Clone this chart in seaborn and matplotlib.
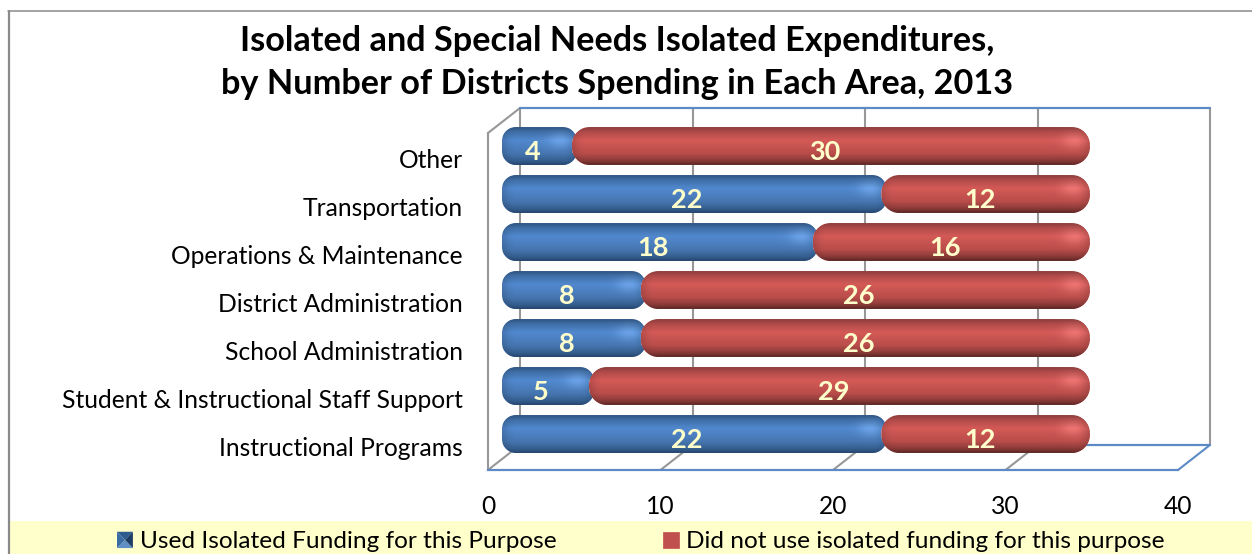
import numpy as np
import pandas as pd
import matplotlib
matplotlib.use("Agg")
import matplotlib.pyplot as plt
import seaborn as sns
from matplotlib.legend_handler import HandlerBase
from matplotlib.lines import Line2D
from matplotlib.patches import Patch, PathPatch, Polygon, Rectangle
from matplotlib.path import Path
from matplotlib.transforms import Affine2D
from matplotlib.colors import LinearSegmentedColormap

# values
categories = ["Other", "Transportation", "Operations & Maintenance", "District Administration",
              "School Administration", "Student & Instructional Staff Support", "Instructional Programs"]
used = [4, 22, 18, 8, 8, 5, 22]
not_used = [30, 12, 16, 26, 26, 29, 12]
x_ticks = [0, 10, 20, 30, 40]
title = "Isolated and Special Needs Isolated Expenditures,\nby Number of Districts Spending in Each Area, 2013"
legend_labels = ["Used Isolated Funding for this Purpose", "Did not use isolated funding for this purpose"]

W, H = 1252, 554
BLUE = "#4a7ebb"
RED = "#c0504d"
WALL = "#5b8ac4"
GRID = "#979797"
FRAME = "#8a8a8a"

sns.set_theme(style="white")
plt.rcParams["font.family"] = ["Lato", "DejaVu Sans"]

df = pd.DataFrame({"category": categories, "used": used, "not_used": not_used})

fig = plt.figure(figsize=(W / 100, H / 100), dpi=100, facecolor="white")


def px_axes(x0, y0, x1, y1):
    # axes from pixel box, y measured from the top
    return fig.add_axes([x0 / W, 1 - y1 / H, (x1 - x0) / W, (y1 - y0) / H])


def rounded(x, y, w, h, rx, ry):
    # rounded rectangle path, radii given per axis in data units
    k = 0.45
    verts = [(x + rx, y), (x + w - rx, y),
             (x + w - rx * k, y), (x + w, y + ry * k), (x + w, y + ry),
             (x + w, y + h - ry),
             (x + w, y + h - ry * k), (x + w - rx * k, y + h), (x + w - rx, y + h),
             (x + rx, y + h),
             (x + rx * k, y + h), (x, y + h - ry * k), (x, y + h - ry),
             (x, y + ry),
             (x, y + ry * k), (x + rx * k, y), (x + rx, y),
             (x + rx, y)]
    codes = [Path.MOVETO, Path.LINETO, Path.CURVE4, Path.CURVE4, Path.CURVE4, Path.LINETO,
             Path.CURVE4, Path.CURVE4, Path.CURVE4, Path.LINETO,
             Path.CURVE4, Path.CURVE4, Path.CURVE4, Path.LINETO,
             Path.CURVE4, Path.CURVE4, Path.CURVE4, Path.CLOSEPOLY]
    return Path(verts, codes)


class PyramidHandler(HandlerBase):
    # little bevelled square used by the first legend entry
    def create_artists(self, legend, orig, xd, yd, width, height, fontsize, trans):
        x0, y0 = -xd, -yd
        x1, y1 = x0 + width, y0 + height
        cx, cy = (x0 + x1) / 2, (y0 + y1) / 2
        faces = [([(x0, y1), (x1, y1), (cx, cy)], "#2f5c8f"),
                 ([(x0, y0), (x1, y0), (cx, cy)], "#5f8fc4"),
                 ([(x0, y0), (x0, y1), (cx, cy)], "#3a6ca3"),
                 ([(x1, y0), (x1, y1), (cx, cy)], "#1d3d66")]
        return [Polygon(pts, closed=True, fc=c, ec="none", transform=trans) for pts, c in faces]


# outer frame and legend band
fig.add_artist(Rectangle((10 / W, 0), 1242 / W, 33 / H, transform=fig.transFigure, fc="#ffffcc", ec="none"))
fig.add_artist(Line2D([8.5 / W, 8.5 / W], [0, 1 - 10.5 / H], transform=fig.transFigure, color=FRAME, lw=1.6))
fig.add_artist(Line2D([8 / W, 1], [1 - 10.5 / H, 1 - 10.5 / H], transform=fig.transFigure, color=FRAME, lw=1.1))

# front plane of the 3d box carries the axis labels
front = px_axes(488, 133, 1178, 470)
front.set_xlim(0, 40)
front.set_ylim(0, 1)
front.patch.set_alpha(0)
front.set_xticks(x_ticks)
front.set_yticks([])
front.tick_params(axis="x", length=0, pad=18, labelsize=17.7, labelcolor="black")
sns.despine(ax=front, top=True, right=True)
front.spines["left"].set(color=GRID, linewidth=1.5)
front.spines["bottom"].set(color=WALL, linewidth=1.6)

back = front.get_xaxis_transform() + Affine2D().translate(32, 25)
floor = front.get_xaxis_transform()
for v in x_ticks:
    is_end = v == 40
    front.plot([v, v], [0, 1], transform=back, color=GRID, lw=1.5, clip_on=False)
    # floor diagonal, from front edge to back wall
    p0 = floor.transform((v, 0))
    p1 = back.transform((v, 0))
    front.plot([p0[0], p1[0]], [p0[1], p1[1]], transform=None, color=WALL if is_end else GRID, lw=1.5, clip_on=False)
p0 = floor.transform((0, 1))
p1 = back.transform((0, 1))
front.plot([p0[0], p1[0]], [p0[1], p1[1]], transform=None, color=GRID, lw=1.5, clip_on=False)
front.plot([0, 40], [1, 1], transform=back, color=WALL, lw=1.6, clip_on=False)
front.plot([0, 40], [0, 0], transform=back, color=WALL, lw=1.6, clip_on=False)

# bars, axes starts one unit early so the round caps left of zero stay visible
ux = 688 / 40   # pixels per x unit
uy = 48         # pixels per category
ax = px_axes(505 - ux, 122, 1193, 458)
ax.patch.set_alpha(0)
sns.barplot(data=df, y="category", x="used", color=BLUE, saturation=1, width=0.79, ax=ax, zorder=2)
sns.barplot(data=df, y="category", x="not_used", left=df["used"].values, color=RED, saturation=1, width=0.79, ax=ax, zorder=3)
ax.set_xlim(-1, 40)
ax.set_ylim(6.5, -0.5)
ax.set(xlabel="", ylabel="")
ax.set_xticks([])
ax.tick_params(axis="y", length=0, pad=18, labelsize=17.7, labelcolor="black")
for lbl in ax.get_yticklabels():
    lbl.set_transform(lbl.get_transform() + Affine2D().translate(0, -12))
sns.despine(ax=ax, left=True, bottom=True)

blue_cmap = LinearSegmentedColormap.from_list("b", [(0, "#2f5380"), (0.12, "#3f6ea6"), (0.35, "#5189cf"), (0.7, "#4676b0"), (0.9, "#355d8e"), (1, "#26466c")])
red_cmap = LinearSegmentedColormap.from_list("r", [(0, "#8a3c3a"), (0.12, "#b04b49"), (0.35, "#d45a57"), (0.7, "#b84d4a"), (0.88, "#8c3b39"), (1, "#5e2726")])

n = len(categories)
bars = list(ax.patches)[:2 * n]
for i, bar in enumerate(bars):
    is_blue = i < n
    cmap = blue_cmap if is_blue else red_cmap
    z = 2 if is_blue else 3
    left_pad = (3 if is_blue else 2) / ux
    right_pad = (3 if is_blue else 0) / ux
    rad = 14 if is_blue else 18
    x0, w = bar.get_x() - left_pad, bar.get_width() + left_pad + right_pad
    y0, h = bar.get_y(), bar.get_height()
    bar.set_x(x0)
    bar.set_width(w)
    clip = PathPatch(rounded(x0, y0, w, h, rad / ux, rad / uy), transform=ax.transData, fc="none", ec="none")
    ax.add_patch(clip)
    bar.set_clip_path(clip)
    # vertical shading with slightly darker ends, light spot by the right cap
    npx = max(int(w * ux), 2)
    t = np.linspace(0, 1, 64)
    rows = cmap(t)[:, :3][:, None, :]
    d = np.arange(npx) + 0.5
    edge = np.clip(np.minimum(d, npx - d) / 14, 0, 1)
    side = 0.86 + 0.14 * np.sin(edge * np.pi / 2)
    img = rows * side[None, :, None]
    spot = np.exp(-(((d - (npx - 17)) / 12) ** 2))[None, :] * np.exp(-(((t - 0.35) / 0.22) ** 2))[:, None]
    img = np.clip(img + 0.1 * spot[:, :, None], 0, 1)
    im = ax.imshow(img, aspect="auto", extent=(x0, x0 + w, y0 + h, y0), zorder=z + 0.1)
    im.set_clip_path(clip)
ax.set_xlim(-1, 40)
ax.set_ylim(6.5, -0.5)

# value labels sit a little left and below the bar centres
for i, bar in enumerate(bars):
    val = (used + not_used)[i]
    offset = Affine2D().translate(-7 if i < n else -6, -6)
    ax.text(bar.get_x() + bar.get_width() / 2, bar.get_y() + bar.get_height() / 2, str(val),
            transform=ax.transData + offset, ha="center", va="center", color="#ffffcc",
            fontsize=19.5, fontweight="bold", zorder=6)

fig.text(617 / W, 1 - 62.5 / H, title, ha="center", va="center", fontsize=24.7, fontweight="bold",
         color="black", linespacing=1.43)

handles = [Patch(fc="#3f6a9e", label=legend_labels[0]), Patch(fc=RED, ec=RED, lw=0.5, label=legend_labels[1])]
fig.legend(handles, legend_labels, ncol=2, loc="center left", bbox_to_anchor=(117 / W, 1 - 542 / H),
           frameon=False, fontsize=17.6, handlelength=0.65, handleheight=0.65, handletextpad=0.28,
           columnspacing=4.35, borderpad=0, borderaxespad=0, labelcolor="black",
           handler_map={handles[0]: PyramidHandler()})

fig.savefig("out.png", dpi=100)
